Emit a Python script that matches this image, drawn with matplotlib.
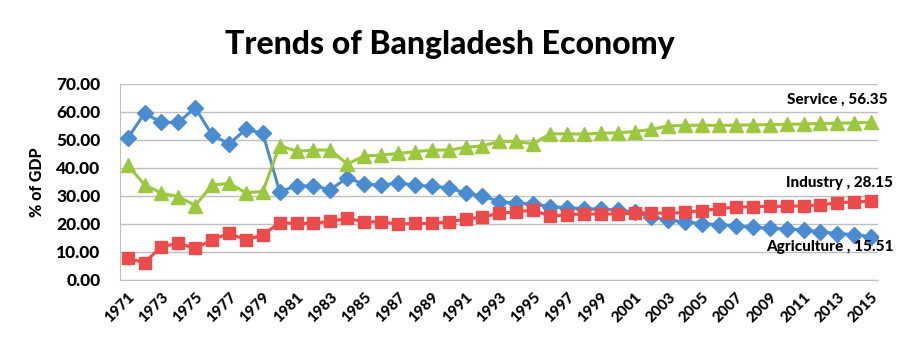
import matplotlib.pyplot as plt

# Values (% of GDP)
years = list(range(1971, 2016))
agriculture = [
    50.6, 59.5, 56.3, 56.3, 61.5, 51.8, 48.6, 53.8, 52.4, 31.5,
    33.6, 33.6, 32.3, 36.5, 34.2, 33.9, 34.6, 33.9, 33.4, 33.0,
    31.0, 30.0, 28.0, 27.4, 27.2, 26.2, 25.8, 25.5, 25.3, 25.0,
    24.3, 22.5, 21.4, 20.8, 20.1, 19.8, 19.4, 18.8, 18.5, 18.2,
    17.9, 17.2, 16.6, 16.2, 15.51,
]
industry = [
    7.7, 6.2, 11.9, 13.1, 11.3, 14.3, 16.7, 14.3, 16.1, 20.5,
    20.2, 20.2, 21.0, 22.0, 20.8, 20.8, 20.0, 20.2, 20.2, 20.8,
    21.7, 22.5, 23.8, 24.4, 24.9, 22.8, 23.3, 23.6, 23.5, 23.6,
    23.8, 24.0, 23.8, 24.2, 24.8, 25.5, 26.0, 26.2, 26.3, 26.3,
    26.5, 26.8, 27.6, 27.9, 28.15,
]
service = [
    41.1, 34.0, 31.0, 29.8, 26.6, 33.9, 34.5, 31.2, 31.6, 48.0,
    46.0, 46.4, 46.4, 41.4, 44.3, 44.6, 45.2, 45.8, 46.4, 46.4,
    47.4, 47.9, 49.5, 49.5, 48.6, 52.2, 52.2, 52.1, 52.4, 52.6,
    53.0, 53.8, 55.0, 55.2, 55.3, 55.2, 55.3, 55.4, 55.5, 55.6,
    55.7, 55.9, 56.0, 56.1, 56.35,
]

blue = '#4A8CD2'
red = '#EB4B4B'
green = '#9BC83C'

plt.rcParams['font.family'] = ['Lato', 'DejaVu Sans']

fig = plt.figure(figsize=(8.99, 3.42), dpi=100)
ax = fig.add_axes([0.1335, 0.1813, 0.843, 0.5731])

ax.plot(years, agriculture, color=blue, lw=2.2, marker='D', ms=8.5, zorder=3)
ax.plot(years, industry, color=red, lw=2.2, marker='s', ms=9, zorder=4)
ax.plot(years, service, color=green, lw=2.2, marker='^', ms=10, zorder=5)

ax.set_xlim(1970.55, 2015.4)
ax.set_ylim(0, 70)
ax.set_yticks(range(0, 71, 10))
ax.set_yticklabels([f'{v:.2f}' for v in range(0, 71, 10)],
                   fontsize=12.5, fontweight='black')
ax.set_xticks(years[::2])
ax.set_xticklabels([str(y) for y in years[::2]], rotation=45,
                   fontsize=11, fontweight='black', ha='right',
                   rotation_mode='anchor')
ax.tick_params(length=0)
ax.tick_params(axis='y', pad=14)
ax.tick_params(axis='x', pad=7)

ax.grid(axis='y', color='#BFBFBF', lw=1)
ax.set_axisbelow(True)
for s in ['top', 'right']:
    ax.spines[s].set_visible(False)
ax.spines['left'].set_color('#BFBFBF')
ax.spines['bottom'].set_color('#BFBFBF')

ax.set_ylabel('% of GDP', fontsize=11.5, fontweight='black', labelpad=8)

fig.text(0.5, 0.87, 'Trends of Bangladesh Economy', ha='center', va='center',
         fontsize=23, fontweight='black')

# end-of-series labels
ax.annotate('Service , 56.35', (years[-1], service[-1]), xytext=(12, 16),
            textcoords='offset points', ha='right', va='center',
            fontsize=11, fontweight='black')
ax.annotate('Industry , 28.15', (years[-1], industry[-1]), xytext=(16, 13),
            textcoords='offset points', ha='right', va='center',
            fontsize=11, fontweight='black')
ax.annotate('Agriculture , 15.51', (years[-1], agriculture[-1]), xytext=(16, -7.5),
            textcoords='offset points', ha='right', va='center',
            fontsize=11, fontweight='black')

fig.savefig('out.png', dpi=100)
